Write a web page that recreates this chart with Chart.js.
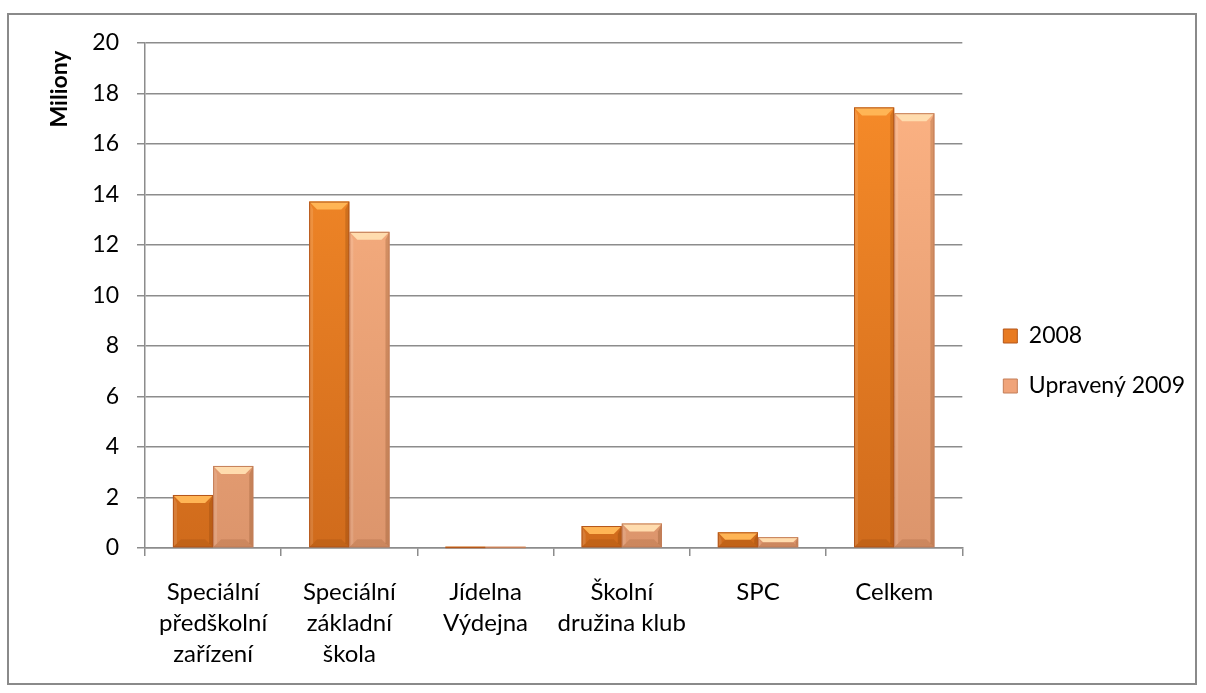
<!DOCTYPE html>
<html>
<head>
<meta charset="utf-8">
<script src="https://cdn.jsdelivr.net/npm/chart.js@4"></script>
<style>
  html, body { margin:0; padding:0; background:#fff; }
  #frame { position:absolute; left:7px; top:13px; width:1190px; height:672px; border:2px solid #8a8a8a; box-sizing:border-box; }
  #chart { display:block; }
</style>
</head>
<body>
<div id="frame"><canvas id="chart" width="1186" height="668"></canvas></div>
<script>
// --------------------
// DATA (miliony Kč)
// --------------------
const categories = [
  ['Speciální', 'předškolní', 'zařízení'],
  ['Speciální', 'základní', 'škola'],
  ['Jídelna', 'Výdejna'],
  ['Školní', 'družina klub'],
  'SPC',
  'Celkem'
];
const values2008 = [2.1, 13.72, 0.05, 0.87, 0.62, 17.45];
const valuesUpraveny2009 = [3.25, 12.52, 0.05, 0.97, 0.43, 17.22];
const yTicks = [0, 2, 4, 6, 8, 10, 12, 14, 16, 18, 20];

// --------------------
// HELPERS
// --------------------
const FONT = 'Lato, "Open Sans", sans-serif';
const GRID = '#8c8c8c';

// vertical gradient across the plot area: brighter at the top, darker lower
function bodyFill(top, bottom){
  return ctx => {
    const a = ctx.chart.chartArea;
    if(!a) return top;
    const g = ctx.chart.ctx.createLinearGradient(0, a.top, 0, a.bottom);
    g.addColorStop(0, top);
    g.addColorStop(1, bottom);
    return g;
  };
}

// bevel look for each bar (Excel 2007 style)
const bevelPlugin = {
  id: 'bevel',
  afterDatasetsDraw(chart){
    const c = chart.ctx;
    chart.data.datasets.forEach((ds, i) => {
      const meta = chart.getDatasetMeta(i);
      meta.data.forEach(bar => {
        const p = bar.getProps(['x','y','base','width'], true);
        const l = p.x - p.width/2, r = p.x + p.width/2, t = p.y, b = p.base;
        const h = b - t;
        if(h < 0.5) return;
        const bv = Math.min(8, h/2);
        c.save();
        // top bevel
        c.beginPath();
        c.moveTo(l, t); c.lineTo(r, t); c.lineTo(r - bv, t + bv); c.lineTo(l + bv, t + bv); c.closePath();
        c.fillStyle = ds.bevelTop; c.fill();
        // left / right edges
        c.beginPath();
        c.moveTo(l, t); c.lineTo(l + bv*0.5, t + bv); c.lineTo(l + bv*0.5, b - bv*0.5); c.lineTo(l, b); c.closePath();
        c.fillStyle = 'rgba(255,255,255,0.12)'; c.fill();
        c.beginPath();
        c.moveTo(r, t); c.lineTo(r - bv*0.5, t + bv); c.lineTo(r - bv*0.5, b - bv*0.5); c.lineTo(r, b); c.closePath();
        c.fillStyle = 'rgba(90,40,0,0.2)'; c.fill();
        // bottom
        c.beginPath();
        c.moveTo(l, b); c.lineTo(r, b); c.lineTo(r - bv, b - bv); c.lineTo(l + bv, b - bv); c.closePath();
        c.fillStyle = 'rgba(90,40,0,0.12)'; c.fill();
        // outline
        c.strokeStyle = ds.edge; c.lineWidth = 1;
        c.strokeRect(l + 0.5, t + 0.5, p.width - 1, Math.max(h - 1, 0.5));
        c.restore();
      });
    });
  }
};

// "Miliony" display-units label at top of the value axis
const unitsPlugin = {
  id: 'units',
  afterDraw(chart){
    const c = chart.ctx;
    c.save();
    c.translate(51, 74);
    c.rotate(-Math.PI/2);
    c.font = 'bold 23px ' + FONT;
    c.fillStyle = '#000';
    c.textAlign = 'center';
    c.textBaseline = 'middle';
    c.fillText('Miliony', 0, 0);
    c.restore();
  }
};

// push the legend a little away from the plot, as in the original
const legendShift = {
  id: 'legendShift',
  afterLayout(chart){
    const lg = chart.legend;
    if(!lg) return;
    lg.left += 14; lg.right += 14;
    lg.top += 12; lg.bottom += 12;
  }
};

// --------------------
// CHART
// --------------------
const chart = new Chart(document.getElementById('chart').getContext('2d'), {
  type: 'bar',
  data: {
    labels: categories,
    datasets: [
      { label: '2008', data: values2008,
        backgroundColor: bodyFill('#fa8e2a', '#d06b1c'),
        edge: '#b4561a', bevelTop: '#ffb555' },
      { label: 'Upravený 2009', data: valuesUpraveny2009,
        backgroundColor: bodyFill('#ffb585', '#dc956c'),
        edge: '#c47e58', bevelTop: '#ffdcae' }
    ]
  },
  options: {
    responsive: false,
    animation: false,
    devicePixelRatio: 1,
    layout: { padding: { left: 0, right: 14, top: 0, bottom: 0 } },
    datasets: { bar: { barPercentage: 1, categoryPercentage: 0.59 } },
    plugins: {
      tooltip: { enabled: false },
      legend: {
        position: 'right',
        labels: {
          font: { family: FONT, size: 23 },
          color: '#000',
          boxWidth: 14, boxHeight: 14,
          padding: 27,
          generateLabels(chart){
            return chart.data.datasets.map((ds, i) => ({
              text: ds.label,
              fillStyle: i === 0 ? '#e87b22' : '#f0a47a',
              strokeStyle: ds.edge, lineWidth: 1,
              datasetIndex: i, fontColor: '#000'
            }));
          }
        }
      }
    },
    scales: {
      x: {
        grid: { drawOnChartArea: false, offset: true, color: GRID, lineWidth: 1.5, tickLength: 8 },
        border: { color: GRID, width: 1.5 },
        ticks: { font: { family: FONT, size: 24, lineHeight: '31px' }, color: '#000', padding: 21, maxRotation: 0 },
        afterFit(axis){ axis.height = 135; }
      },
      y: {
        min: 0, max: 20,
        afterBuildTicks(axis){ axis.ticks = yTicks.map(v => ({ value: v })); },
        grid: { color: GRID, lineWidth: 1.5, tickLength: 8 },
        border: { color: GRID, width: 1.5 },
        ticks: { font: { family: FONT, size: 23 }, color: '#000', padding: 18 },
        afterFit(axis){ axis.width = 136; axis.paddingTop = 28; }
      }
    }
  },
  plugins: [bevelPlugin, unitsPlugin, legendShift]
});
</script>
</body>
</html>
